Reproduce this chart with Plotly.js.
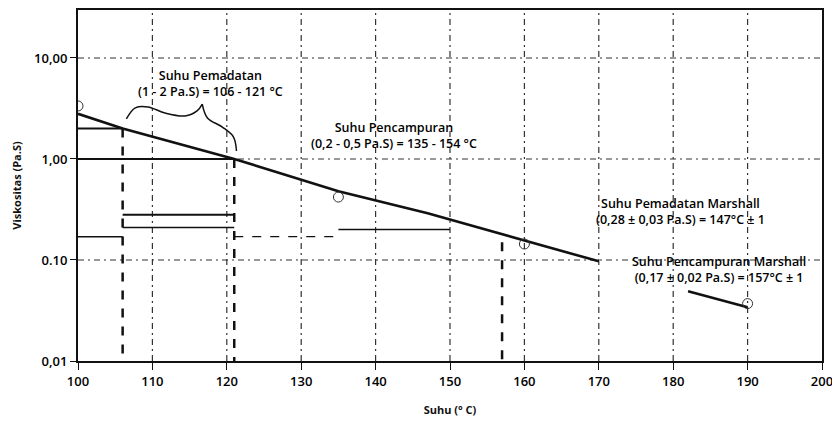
<!DOCTYPE html>
<html><head><meta charset="utf-8">
<script src="https://cdn.plot.ly/plotly-3.0.1.min.js"></script>
<style>html,body{margin:0;padding:0;background:#fff}#c{width:832px;height:421px}</style>
</head><body><div id="c"></div>
<script>
// main viscosity-temperature line
const suhu = [100, 106, 121, 135, 147, 157, 170];
const viskositas = [2.8, 2.0, 1.0, 0.48, 0.29, 0.18, 0.097];
// short second segment
const suhu2 = [182, 190];
const visk2 = [0.049, 0.034];
// open circles
const cx = [100, 135, 160, 190];
const cy = [3.35, 0.42, 0.144, 0.037];
// reference lines
const pemadatanT = [106, 121];
const pemadatanV = [2, 1];
const marshallPadat = 0.28;
const marshallCampur = 0.17;
const marshallCampurT = 157;
const campurV = 0.2;
const campurT = [135, 150];
// brace
const braceX = [106.5, 107.7, 109.4, 111.7, 114.4, 116.0, 116.7];
const braceY = [2.49, 3.20, 3.27, 2.85, 2.67, 2.99, 3.5];
const braceX2 = [116.7, 117.4, 119.4, 120.9, 121.3];
const braceY2 = [3.5, 2.55, 2.07, 1.65, 1.2];
const xTicks = [100,110,120,130,140,150,160,170,180,190,200];
const yTicks = [0.01, 0.1, 1, 10];
const yLabels = ['0,01', '0.10', '1,00', '10,00'];
const gridX = [110,120,130,140,150,160,170,180,190];
const gridY = [0.1, 1, 10];

const K = '#111';
function seg(x, y, w, dash, color) {
  return {x: x, y: y, mode: 'lines', line: {color: color || K, width: w, dash: dash || 'solid'}, hoverinfo: 'skip', showlegend: false};
}
const traces = [];
gridX.forEach(g => traces.push(seg([g, g], [0.01, 29.8], 1.2, '6px,4px,2px,4px', '#333')));
gridY.forEach(g => traces.push(seg([100, 200], [g, g], 1.2, '6px,4px,2px,4px', '#333')));
traces.push(
  seg([100, pemadatanT[0]], [pemadatanV[0], pemadatanV[0]], 2),
  seg([100, pemadatanT[1]], [pemadatanV[1], pemadatanV[1]], 2),
  seg([pemadatanT[0], pemadatanT[0]], [pemadatanV[0], 0.01], 2.5, 'dash'),
  seg([pemadatanT[1], pemadatanT[1]], [pemadatanV[1], 0.01], 2.5, 'dash'),
  seg([pemadatanT[0], pemadatanT[1]], [marshallPadat, marshallPadat], 2),
  seg([pemadatanT[0], pemadatanT[1]], [0.21, 0.21], 1.5),
  seg([100, pemadatanT[0]], [marshallCampur, marshallCampur], 1.5),
  seg([pemadatanT[1], campurT[0]], [marshallCampur, marshallCampur], 1.2, 'dash'),
  seg(campurT, [campurV, campurV], 1.5),
  seg([marshallCampurT, marshallCampurT], [0.15, 0.01], 2.5, 'dash'),
  seg(braceX, braceY, 1.5),
  seg(braceX2, braceY2, 1.5),
  {x: suhu, y: viskositas, mode: 'lines', line: {color: K, width: 2.6}, showlegend: false},
  {x: suhu2, y: visk2, mode: 'lines', line: {color: K, width: 2.6}, showlegend: false},
  {x: cx, y: cy, mode: 'markers', marker: {symbol: 'circle-open', size: 10, color: '#333', line: {width: 1}}, showlegend: false}
);
traces.forEach(t => { if (t.x === braceX || t.x === braceX2) t.line.shape = 'spline'; });

const F = 'Open Sans, Noto Sans, sans-serif';
const ann = (x, y, t) => ({x: x, y: Math.log10(y), xref: 'x', yref: 'y', text: t, showarrow: false,
  font: {family: F, size: 12.5, color: '#000', weight: 600}, align: 'center'});
const layout = {
  width: 832, height: 421,
  margin: {l: 78, r: 10, t: 10, b: 60},
  paper_bgcolor: '#fff', plot_bgcolor: '#fff',
  font: {family: F, color: K},
  xaxis: {range: [100, 200], tickvals: xTicks, ticks: 'outside', ticklen: 7, tickcolor: K,
    showline: true, linecolor: K, linewidth: 2, mirror: true, showgrid: false, zeroline: false,
    ticklabeloverflow: 'allow',
    tickfont: {size: 13, color: '#000', family: F, weight: 600},
    title: {text: '<b>Suhu (° C)</b>', font: {size: 11, color: K, family: F}, standoff: 18}},
  yaxis: {type: 'log', range: [-2, 1.475], tickvals: yTicks, ticktext: yLabels,
    ticks: 'outside', ticklen: 6, tickcolor: K,
    showline: true, linecolor: K, linewidth: 2, mirror: true, showgrid: false, zeroline: false,
    tickfont: {size: 13, color: '#000', family: F, weight: 600},
    title: {text: '<b>Viskositas (Pa.S)</b>', font: {size: 11, color: K, family: F}, standoff: 10}},
  annotations: [
    ann(117.8, 5.53, 'Suhu Pemadatan<br>(1 - 2 Pa.S) = 106 - 121 °C'),
    ann(142.5, 1.69, 'Suhu Pencampuran<br>(0,2 - 0,5 Pa.S) = 135 - 154 °C'),
    ann(181.0, 0.30, 'Suhu Pemadatan Marshall<br>(0,28 ± 0,03 Pa.S) = 147°C ± 1'),
    ann(186.1, 0.0805, 'Suhu Pencampuran Marshall<br>(0,17 ± 0,02 Pa.S) = 157°C ± 1')
  ]
};
Plotly.newPlot('c', traces, layout, {staticPlot: true});
</script></body></html>
